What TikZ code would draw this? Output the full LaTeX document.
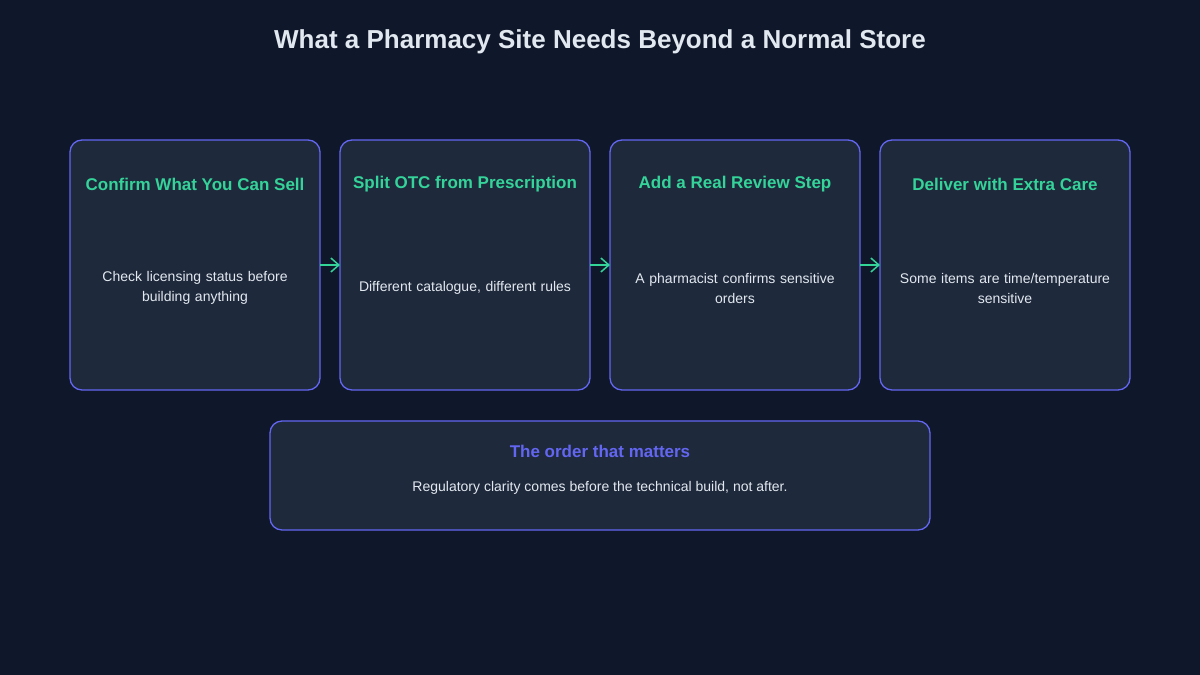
\documentclass[tikz,border=0pt]{standalone}
\usepackage{fontspec}
\setmainfont{Liberation Sans}
\usetikzlibrary{arrows.meta}
\definecolor{bg}{HTML}{0F172A}
\definecolor{card}{HTML}{1E293B}
\definecolor{edge}{HTML}{6366F1}
\definecolor{grn}{HTML}{34D399}
\definecolor{txt}{HTML}{E2E8F0}
\begin{document}
\begin{tikzpicture}[x=1pt,y=-1pt,
 box/.style={draw=edge,fill=card,line width=1.3pt,rounded corners=12pt},
 head/.style={text=grn,font=\bfseries\fontsize{17}{20}\selectfont},
 body/.style={text=txt,font=\fontsize{14}{20}\selectfont,align=center,text width=215pt},
 arr/.style={draw=grn,line width=1.5pt,-{Straight Barb[length=8pt,width=14pt]}}]
\useasboundingbox (0,0) rectangle (1200,675);
\fill[bg] (0,0) rectangle (1200,675);
\node[text=txt,font=\bfseries\fontsize{26}{30}\selectfont] (title) at (600,42) {What a Pharmacy Site Needs Beyond a Normal Store};
\foreach \i/\x/\h/\b in {1/70/{Confirm What You Can Sell}/{Check licensing status before\\building anything},
 2/340/{Split OTC from Prescription}/{Different catalogue, different rules},
 3/610/{Add a Real Review Step}/{A pharmacist confirms sensitive\\orders},
 4/880/{Deliver with Extra Care}/{Some items are time/temperature\\sensitive}}{
 \draw[box] (\x,140) rectangle ++(250,250);
 \coordinate (L\i) at (\x,265);
 \coordinate (R\i) at (\x+250,265);
 \node[head] (h\i) at (\x+125,184) {\h};
 \node[body] (b\i) at (\x+125,288) {\b};
}
\draw[arr] (R1) -- (L2);
\draw[arr] (R2) -- (L3);
\draw[arr] (R3) -- (L4);
\draw[box] (270,421) rectangle (930,530);
\node[text=edge,font=\bfseries\fontsize{17}{20}\selectfont] (oh) at (600,451) {The order that matters};
\node[text=txt,font=\fontsize{14}{18}\selectfont] (ob) at (600,488) {Regulatory clarity comes before the technical build, not after.};
\end{tikzpicture}
\end{document}
